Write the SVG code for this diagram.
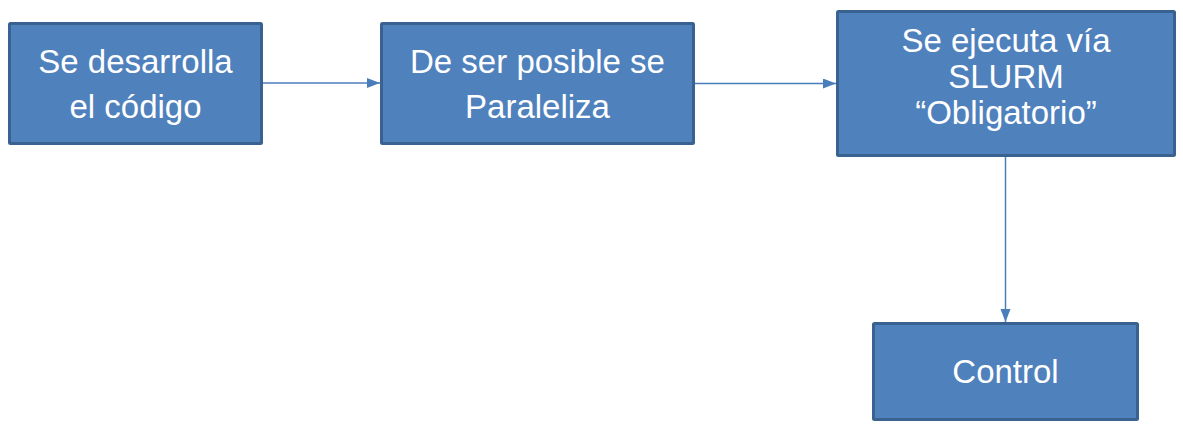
<svg xmlns="http://www.w3.org/2000/svg" width="1183" height="425" viewBox="0 0 1183 425">
<style>
.box{fill:#4F81BD;stroke:#3A6291;stroke-width:3;}
.lbl{font-family:"Liberation Sans",Arial,sans-serif;font-size:33px;fill:#FFFFFF;text-anchor:middle;}
.conn{stroke:#4A7EBB;stroke-width:1.5;fill:none;}
</style>
<defs>
<marker id="arr" markerUnits="userSpaceOnUse" markerWidth="14" markerHeight="12" refX="13" refY="5" orient="auto">
<path d="M0,0 L13,5 L0,10 Z" fill="#4A7EBB"/>
</marker>
</defs>
<rect width="1183" height="425" fill="#FFFFFF"/>
<g id="connectors">
<line class="conn" x1="263" y1="83" x2="380" y2="83" marker-end="url(#arr)"/>
<line class="conn" x1="695" y1="83.5" x2="836" y2="83.5" marker-end="url(#arr)"/>
<line class="conn" x1="1005.5" y1="157" x2="1005.5" y2="322" marker-end="url(#arr)"/>
</g>
<g id="node1">
<rect class="box" x="9.5" y="23.5" width="252" height="120" rx="1"/>
<text class="lbl" x="135.5" y="73">Se desarrolla</text>
<text class="lbl" x="135.5" y="118">el código</text>
</g>
<g id="node2">
<rect class="box" x="381.5" y="23.5" width="312" height="120" rx="1"/>
<text class="lbl" x="537.5" y="73">De ser posible se</text>
<text class="lbl" x="537.5" y="118">Paraleliza</text>
</g>
<g id="node3">
<rect class="box" x="837.5" y="11.5" width="337" height="144" rx="1"/>
<text class="lbl" x="1006" y="52">Se ejecuta vía</text>
<text class="lbl" x="1006" y="87.5">SLURM</text>
<text class="lbl" x="1006" y="123.5">“Obligatorio”</text>
</g>
<g id="node4">
<rect class="box" x="873.5" y="323.5" width="264" height="96" rx="1"/>
<text class="lbl" x="1005.5" y="383">Control</text>
</g>
</svg>
